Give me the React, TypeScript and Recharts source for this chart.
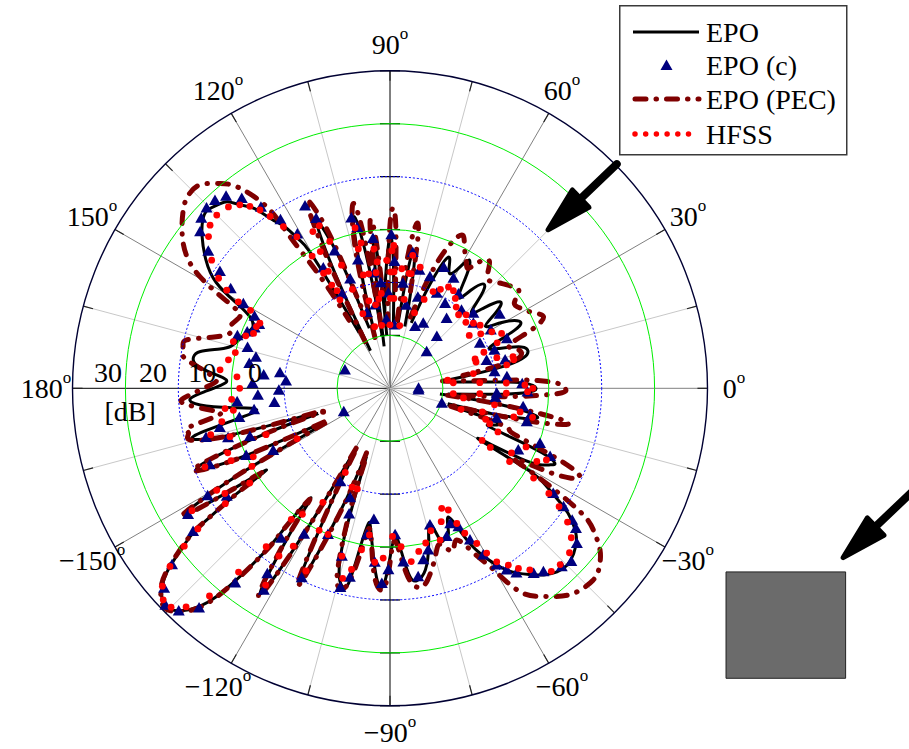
import React from 'react';
import {
  ComposedChart, XAxis, YAxis, Line, Scatter, ReferenceLine, ReferenceDot, ReferenceArea, Legend,
} from 'recharts';

type P = [number, number] | null;

// ---------------- DATA (angle in degrees, radial value: ring step 10, outer circle 60) ----------------
const epoLine: P[] = [
  [7, 10], [5, 13.6], [3.5, 19.8], [2.5, 24.6], [1.2, 27], [0, 27.6], [-1, 27.2], [-2, 25.1], [-3, 21.2], [-4.3, 15.1], [-5.6, 11], null,
  [-6.5, 9.5], [-8, 18.9], [-9.5, 25.5], [-11, 28.4], [-12.5, 26.5], [-14, 19.8], [-15, 11.3], null,
  [-16, 11.3], [-17, 18.9], [-18, 21.7], [-19.5, 20.8], [-21, 19.8], [-22, 24.6], [-23, 31.2], [-24.4, 34.2], [-25.5, 33.6],
  [-27, 31.8], [-28.3, 27.8], [-29.3, 20.4], [-29.9, 19.7], [-30.3, 24.6], [-30.7, 31.4], [-32.1, 35], [-34.3, 39.7],
  [-35.9, 42.3], [-38.5, 45], [-42, 46.7], [-45, 47.3], [-47.7, 46.9], [-50.5, 45.7], [-53.1, 44], [-57.3, 40.8],
  [-61.4, 35.5], [-63.5, 31], [-65.6, 26.7], [-68, 29.5], [-70, 30.2], [-71.7, 30.2], [-73.5, 26.7], [-76, 30.2],
  [-79, 35], [-82, 36.7], [-84, 35.7], [-86, 31], [-88, 28], [-90, 32], [-92, 37.4], [-94, 36], [-96, 31], [-98, 26.5],
  [-99.1, 25.9], [-100.5, 30], [-101.8, 37], [-103.2, 38.6], [-105, 37], [-107, 30], [-109, 13.6], null,
  [-110, 13], [-112, 25], [-114.7, 39.9], [-116, 35], [-117.5, 22], [-119, 13], null,
  [-119.5, 13.2], [-120.5, 30], [-122, 45.4], [-123.5, 40], [-125, 30], [-126, 25.7], [-127, 33], [-127.5, 39.3],
  [-129.8, 51.2], [-132.9, 57.3], [-136, 59.2], [-139, 57], [-141, 53.5], [-143.4, 47.1], [-144.3, 42.7], [-145.5, 35],
  [-146.5, 28], [-147.3, 35], [-148.3, 45.6], [-149.5, 40], [-150.5, 30], [-151.7, 14], null,
  [-153, 14], [-155, 30], [-157, 39.3], [-158.5, 36], [-160, 25], [-160.7, 13.4], null,
  [-162, 15], [-163.5, 30], [-165.5, 38.4], [-167, 36], [-168.5, 30], [-170.8, 25.5], [-173, 30], [-175, 36], [-177, 37.8],
  [-179, 35], [179, 32], [177, 31], [175, 34], [173, 37], [171, 37.6], [169, 36.5], [167, 33], [165, 31], [162, 29.9],
  [159, 29.1], [156, 28.4], [153, 29.7], [151, 33.1], [148.7, 38.4], [145, 42.5], [141, 45.7], [138, 47.6], [135.6, 48.2],
  [133, 47.5], [131, 46.7], [129, 44.5], [127, 42.5], [125, 39], [123, 36.3], [121.5, 33], [120.5, 30.2], [119.8, 22], [119, 12], null,
  [117.5, 8], [116, 20], [114.8, 30], [113.7, 34.4], [112.5, 32], [111, 25], [109, 12], null,
  [106, 10], [104, 22], [102.3, 32.5], [100.8, 30], [99.5, 20], [98.5, 10], null,
  [98, 8], [97.2, 20], [96.5, 27.9], [95.5, 26], [94.5, 18], [93.5, 10], null,
  [94.6, 11.7], [93, 18], [91.5, 24], [90.5, 27.5], [90, 28.7], [89, 27], [88, 20], [87, 12.3], null,
  [83, 12], [81.5, 22], [80.3, 26.2], [79, 24], [77.5, 17], [76.5, 12], null,
  [72, 13], [69, 21], [66.2, 27], [64, 25.5], [62, 24.5], [60, 26.5], [58.3, 28.5], [56, 26], [53, 21.5], [50.5, 24],
  [48, 26.5], [45.5, 24.5], [43, 21], [40.5, 23.5], [38, 26.5], [35.5, 24.5], [33, 21.5], [30.5, 24.5], [27.5, 27.5],
  [25, 26], [22.5, 20.5], [20, 22], [17.5, 26], [15, 27], [13, 26], [11, 22], [9, 14], [8, 10],
];

const epoPecLine: P[] = [
  [8, 10], [5.5, 15], [4, 22], [3, 28], [1.5, 32], [0, 33.1], [-1.5, 32.5], [-3, 27], [-4.5, 20], [-6, 12], null,
  [-7, 11], [-8.5, 22], [-10.6, 33.8], [-12.5, 31], [-14, 22], [-15.5, 12], null,
  [-16.5, 12], [-18, 22], [-19.5, 24], [-21, 27], [-23, 35], [-24.8, 39.5], [-26.5, 38], [-28, 33], [-29.5, 27], [-31, 33],
  [-33, 42.9], [-35, 47], [-37.6, 50.1], [-40.5, 52], [-43.4, 52.8], [-48.2, 52], [-51.9, 50], [-54.5, 48.3], [-57, 46.2],
  [-59, 42.5], [-60.7, 38.6], [-63, 35], [-66.3, 31.3], [-69, 33], [-72, 31], [-75, 33], [-79, 37], [-82, 38], [-85, 35],
  [-88, 29], [-90, 33], [-92, 38], [-95, 35], [-98, 27], [-100, 31], [-102, 37.5], [-104, 39], [-106, 36], [-108, 25], [-109, 14], null,
  [-110, 13], [-112, 26], [-114.7, 40.5], [-116, 36], [-117.5, 23], [-119, 13], null,
  [-119.5, 13], [-120.5, 31], [-122, 46], [-123.5, 41], [-125, 31], [-126, 26], [-127, 33.5], [-127.5, 39.5], [-129.8, 51.5],
  [-132.9, 57.6], [-136, 59.4], [-139, 57.3], [-141, 53.8], [-143.4, 47.4], [-144.3, 43], [-145.5, 35], [-146.5, 28.5],
  [-147.3, 35.5], [-148.3, 46], [-149.5, 40.5], [-150.5, 30], [-151.7, 14], null,
  [-153, 14], [-155, 30.5], [-157, 40], [-158.5, 36.5], [-160, 25], [-160.7, 13.4], null,
  [-162, 15], [-163.5, 31], [-165.5, 39], [-167.5, 39], [-169, 38.8], [-171, 33], [-173, 34], [-175.9, 39.2], [-178, 38],
  [179, 34], [177, 33], [174, 36], [171.3, 39.5], [168.6, 39.9], [166.6, 39.5], [164, 35], [161, 32], [158.9, 32.4],
  [155, 31.5], [152.5, 33.4], [149.6, 41.6], [145, 47.7], [139.2, 51.6], [136, 52.8], [133, 52.6], [130, 50.5], [127.2, 47.8],
  [124.2, 41.5], [123.4, 34.3], [122, 25], [121, 15], null,
  [118, 10], [116, 25], [114.8, 35], [113.9, 38.9], [112.5, 36], [111, 28], [109, 14], null,
  [106.5, 10], [104.5, 24], [102.5, 33], [100.8, 35.2], [99.5, 27], [98.7, 15], null,
  [98.3, 12], [97.5, 24], [96.8, 31.8], [95.5, 29], [94.3, 18], null,
  [92, 12], [90.8, 24], [89.5, 33.4], [88, 31], [86.8, 18], null,
  [84, 13], [82.5, 24], [81, 31.2], [79.5, 29], [78, 18], null,
  [74, 14], [70, 24], [67, 30], [64.5, 32], [62, 30], [59, 28], [57, 27], [55, 29], [52, 30.5], [49, 28], [46, 28],
  [43, 29], [40, 30], [37, 30.5], [34.5, 28.5], [31.4, 29], [28, 30.5], [25, 32], [22.5, 29], [20, 24], [17.3, 25],
  [14, 25.5], [12, 22], [10, 14],
];

const epoCPoints: [number, number][] = [
  [0, 5.4], [5.7, 22.2], [9, 20], [13.8, 22.4], [16, 19], [20, 21], [23, 24], [26.6, 19], [30, 22], [34, 25], [38, 20],
  [42, 21.2], [45, 9.8], [47.5, 20], [47.9, 13.2], [51, 17], [54, 22], [57, 19.1], [60, 24], [62.9, 13.8], [63.8, 20],
  [66, 25], [67.9, 12.6], [70.3, 22.4], [73, 18], [76, 23], [79, 16], [80.5, 26], [83, 20], [86, 12], [88, 24], [89.5, 29],
  [91, 18], [93, 13], [95, 20], [96.5, 28.5], [98, 22], [100, 16], [101.5, 31], [102.8, 33], [104, 25], [107, 15],
  [110, 22], [112, 28], [113.5, 35], [115, 38], [117, 20], [119, 26], [121, 34], [123, 38], [125.5, 42], [128, 45.5],
  [130.5, 47.7], [133, 48.5], [135.5, 48.6], [138, 48], [140.5, 46.5], [143, 43], [145.5, 39], [148, 35.5], [150, 32],
  [152, 29], [154, 27.5], [156, 28], [157.8, 9.2], [158.5, 29], [161, 30.5], [164, 28], [167, 26], [170, 27], [172, 21],
  [174, 24], [176, 19.7], [178, 26], [-179, 21], [-177, 25], [-175, 29], [-173, 22], [-171, 26], [-169, 29], [-167, 33],
  [-165, 36], [-163, 32], [-161, 28], [-157, 37], [-153, 9.8], [-155, 30], [-152, 25], [-149.5, 40], [-148, 45],
  [-146.5, 37], [-144, 46], [-141, 53], [-138.5, 57], [-136, 59], [-133.5, 58], [-131, 55], [-128.5, 47], [-126, 35],
  [-123.5, 42], [-122, 45], [-120.5, 32], [-118, 20], [-115, 39.5], [-113, 30], [-110, 22], [-108, 25], [-106, 33],
  [-104, 38.8], [-102, 36.5], [-99, 28], [-97, 25], [-95, 33], [-92.4, 36.9], [-90.5, 34.3], [-88, 27.7], [-85.6, 32.9],
  [-81.5, 36], [-79, 33], [-76.7, 31.4], [-73.7, 26.9], [-69.1, 30], [-66, 28], [-63.7, 29.2], [-62.2, 32.4], [-60.8, 36.1],
  [-58.9, 39], [-57.3, 40.8], [-55.6, 42.3], [-52.2, 44.3], [-50.1, 45.2], [-46.1, 46.8], [-43.7, 47.4], [-39.7, 45.9],
  [-37, 44], [-35.9, 42.5], [-34.3, 39.7], [-32.8, 36.7], [-25.7, 26.9], [-23.1, 32.9], [-20.2, 30.2], [-16.2, 10.2],
  [-15.7, 20.9], [-13.7, 26.6], [-11, 27], [-7.9, 25.4], [-5, 20], [-3.4, 5.4], [-2.7, 20.2], [-1.5, 26], [2, 25],
];

const hfssPoints: [number, number][] = [
  [5, 12], [3.6, 17], [2.6, 22], [1.4, 25.5], [0, 27], [-1.4, 26], [-2.4, 22], [-3.4, 17], [-4.8, 12],
  [-7.5, 14], [-9, 20], [-10.3, 25], [-11.5, 27.5], [-13, 24], [-14.3, 18], [-16.5, 14], [-18, 19], [-19.5, 20],
  [-22, 22], [-23.3, 28], [-24.6, 32.5], [-26.5, 31], [-28, 26], [-29.5, 20], [-30.5, 22], [-31.5, 26.5], [-32, 32],
  [-33.5, 36], [-35, 39], [-37, 42], [-39.5, 44.4], [-42.5, 46], [-46, 46.3], [-48.6, 46.1], [-52.4, 43.3], [-54.5, 41.8],
  [-56.2, 40.2], [-58.4, 38.5], [-59.6, 36.1], [-60.8, 33.6], [-62.7, 30.8], [-63.7, 28.5], [-64.4, 25.5], [-66.7, 24.7],
  [-69, 27], [-71.7, 30.2], [-74, 28], [-77, 30], [-80, 31.3], [-83, 33], [-86, 30], [-89, 28], [-92.3, 32.1], [-95, 33],
  [-98, 28], [-100, 31], [-102, 35], [-104, 37], [-106, 33], [-108, 20], [-111, 20], [-113, 30], [-114.7, 38],
  [-116.5, 30], [-118, 18], [-120.5, 25], [-121.5, 35], [-122.3, 44], [-123.5, 38], [-124.8, 29], [-127, 31], [-128, 38],
  [-129.5, 45], [-131, 52], [-133, 56.5], [-135, 58.5], [-137, 58.6], [-139, 57], [-141, 53.5], [-142.5, 49], [-143.8, 45],
  [-145, 38], [-146, 32], [-147.5, 37], [-148.3, 44], [-149.5, 38], [-150.5, 30], [-151.5, 20], [-153.4, 28.9],
  [-155.5, 33], [-157, 38], [-158.3, 33], [-159.5, 25], [-163.2, 31.6], [-165.5, 35], [-168.8, 32.4], [-172, 29.9],
  [-173, 31.4], [-176, 30], [180, 28.4], [175.7, 29], [173.8, 32.3], [170, 31], [167, 30], [163.4, 30.9], [160, 29],
  [158.1, 27.8], [155.2, 27.8], [153.4, 27.5], [150.8, 30.2], [150.3, 33], [149, 36], [147.3, 38.5], [144.3, 41.5],
  [140.1, 44.7], [137.8, 45.9], [135, 46.3], [131.7, 45.9], [129.3, 44.8], [127.6, 43.4], [126.1, 41.7], [124.9, 39.6],
  [123.4, 36.6], [121.6, 33.6], [120.5, 29], [120, 25.1], [119.4, 22.4], [119.5, 19.2],
  [116.2, 33], [117, 29], [117.8, 25], [118.5, 21], [113.5, 33.5], [112.3, 30], [111.5, 25], [110.8, 20], [110, 15],
  [104, 12], [103.6, 17], [103.2, 22], [102.8, 27], [102.3, 31], [101.3, 28], [100.5, 22], [99.8, 16],
  [97.5, 12], [97.2, 17], [96.9, 22], [96.6, 26.5], [95.8, 24], [95.2, 18],
  [91.5, 24.2], [90, 12], [89.8, 17], [89.5, 22], [89.2, 26], [88.5, 27], [88, 22], [87.5, 17], [84.4, 22.7],
  [81.2, 12], [80.9, 17], [80.6, 22], [80.3, 25.5], [79.5, 22], [76, 23.6], [72, 15], [69, 18], [66, 20], [63, 21],
  [60, 22.1], [57, 22], [54, 21], [50.8, 19.8], [47, 19], [44, 20], [41, 19], [38, 20], [35, 20.8], [33.7, 18], [31, 20],
  [29, 22], [26.2, 23.5], [23, 22], [21, 19], [19, 17], [17, 17], [16, 21], [14.4, 24], [13, 24], [11.3, 22.5], [10, 16], [8, 11],
];

const seriesNames = ['EPO', 'EPO (c)', 'EPO (PEC)', 'HFSS'];
const ringValues = [10, 20, 30, 40, 50, 60];
const spokeAngles = [0, 15, 30, 45, 60, 75, 90, 105, 120, 135, 150, 165, 180, 195, 210, 225, 240, 255, 270, 285, 300, 315, 330, 345];
const angleTicks = [0, 30, 60, 90, 120, 150, 180, -150, -120, -90, -60, -30];
const radialTickLabels = ['30', '20', '10', '0'];
const radialUnitLabel = '[dB]';

// ---------------- LAYOUT ----------------
const W = 909;
const H = 749;
const CX = 390;
const CY = 388.3;
const R_PX = 317.5;
const R_MAX = 60;
const K = R_PX / R_MAX;
const X_DOMAIN: [number, number] = [-CX / K, (W - CX) / K];
const Y_DOMAIN: [number, number] = [-(H - CY) / K, CY / K];
const FONT = "'Liberation Serif', 'DejaVu Serif', serif";
const TXT: React.CSSProperties = { fontFamily: FONT };
const LABEL_R = 65;
const RADIAL_LABEL_R = [53.3, 44.8, 35.5, 25.5];

const rad = (d: number) => (d * Math.PI) / 180;
const toXY = (p: P) =>
  p ? { x: p[1] * Math.cos(rad(p[0])), y: p[1] * Math.sin(rad(p[0])) } : { x: null, y: null };

const epoData = epoLine.map(toXY);
const pecData = epoPecLine.map(toXY);
const epoCData = epoCPoints.map(toXY);
const hfssData = hfssPoints.map(toXY);

const NAVY = '#00007f';
const PEC = '#7f0000';
const PEC_DASH = '11 10 0.5 10';

const Tri = (p: any) => {
  const { cx, cy } = p;
  if (cx == null || cy == null || isNaN(cx)) return <g />;
  return <polygon points={`${cx},${cy - 6} ${cx + 6},${cy + 4.5} ${cx - 6},${cy + 4.5}`} fill={NAVY} />;
};
const RedDot = (p: any) => {
  const { cx, cy } = p;
  if (cx == null || cy == null || isNaN(cx)) return <g />;
  return <circle cx={cx} cy={cy} r={3.4} fill="#ff0000" />;
};

const deg = (a: number) => (a < 0 ? '\u2212' + Math.abs(a) : String(a));

const arrowShape = (dirDeg: number, len: number) => (p: any) => {
  const { cx, cy } = p;
  const ux = Math.cos(rad(dirDeg));
  const uy = -Math.sin(rad(dirDeg));
  const nx = -uy;
  const ny = ux;
  const hl = 47;
  const hw = 12;
  const bx = cx + ux * hl;
  const by = cy + uy * hl;
  return (
    <g>
      <line x1={bx - ux * 6} y1={by - uy * 6} x2={cx + ux * len} y2={cy + uy * len} stroke="#000" strokeWidth={8} strokeLinecap="round" />
      <polygon
        points={`${cx + ux * 2},${cy + uy * 2} ${bx + nx * hw},${by + ny * hw} ${bx - nx * hw},${by - ny * hw}`}
        fill="#000" stroke="#000" strokeWidth={5} strokeLinejoin="round"
      />
    </g>
  );
};

const LegendBox = () => (
  <svg width={230} height={152} style={{ display: 'block' }}>
    <rect x={0.75} y={0.75} width={227} height={149} fill="#fff" stroke="#3a3a3a" strokeWidth={1.5} />
    <line x1={14} x2={80} y1={27} y2={27} stroke="#000" strokeWidth={3} />
    <polygon points="47.5,54.5 53.5,65 41.5,65" fill={NAVY} />
    <line x1={16} x2={80} y1={94} y2={94} stroke={PEC} strokeWidth={5} strokeDasharray={PEC_DASH} strokeLinecap="round" />
    <line x1={16} x2={80} y1={129} y2={129} stroke="#ff0000" strokeWidth={5.5} strokeDasharray="0 10.7" strokeLinecap="round" />
    {seriesNames.map((n, i) => (
      <text key={n} x={87} y={[27, 60, 94, 129][i] + 10} style={TXT} fontSize={28} fill="#000">
        {n}
      </text>
    ))}
  </svg>
);

const AngleText = ({ cx, cy, a }: { cx: number; cy: number; a: number }) => (
  <text x={cx} y={cy + 10} textAnchor="middle" style={TXT} fontSize={28} fill="#000">
    {deg(a)}
    <tspan fontSize={17} dy={-15}>o</tspan>
  </text>
);

export default function App() {
  return (
    <div style={{ position: 'absolute', left: 0, top: 0, width: W, height: H, background: '#fff', fontFamily: FONT }}>
      <ComposedChart width={W} height={H} margin={{ top: 0, right: 0, bottom: 0, left: 0 }}>
        <XAxis type="number" dataKey="x" domain={X_DOMAIN} hide allowDataOverflow />
        <YAxis type="number" dataKey="y" domain={Y_DOMAIN} hide allowDataOverflow />

        {spokeAngles.map((a) => (
          <ReferenceLine
            key={'s' + a}
            segment={[{ x: 0, y: 0 }, { x: R_MAX * Math.cos(rad(a)), y: R_MAX * Math.sin(rad(a)) }]}
            stroke={a === 90 || a === 270 || a === 180 ? '#000' : a % 30 === 0 ? '#808080' : '#c8c8c8'}
            strokeWidth={1}
            ifOverflow="visible"
          />
        ))}
        {ringValues.map((v, i) => (
          <ReferenceDot
            key={'r' + v}
            x={0}
            y={0}
            r={v * K}
            fill="none"
            stroke={v === R_MAX ? '#000033' : i % 2 === 0 ? '#00ee00' : '#0000ff'}
            strokeWidth={v === R_MAX ? 1.4 : 1}
            strokeDasharray={v !== R_MAX && i % 2 === 1 ? '2 2' : undefined}
            ifOverflow="visible"
          />
        ))}
        {spokeAngles.map((a) => (
          <ReferenceLine
            key={'t' + a}
            segment={[
              { x: (R_MAX - 1.9) * Math.cos(rad(a)), y: (R_MAX - 1.9) * Math.sin(rad(a)) },
              { x: R_MAX * Math.cos(rad(a)), y: R_MAX * Math.sin(rad(a)) },
            ]}
            stroke="#222"
            strokeWidth={1.2}
            ifOverflow="visible"
          />
        ))}
        {ringValues.flatMap((v) => [v, -v]).map((v) => (
          <ReferenceLine
            key={'vt' + v}
            segment={[{ x: -1.9, y: v }, { x: 1.9, y: v }]}
            stroke="#000"
            strokeWidth={1.2}
            ifOverflow="visible"
          />
        ))}

        <Line type="natural" data={epoData} dataKey="y" name="EPO" stroke="#000" strokeWidth={3} dot={false} isAnimationActive={false} connectNulls={false} strokeLinejoin="round" />
        <Scatter data={epoCData} dataKey="y" name="EPO (c)" shape={Tri} isAnimationActive={false} />
        <Line type="natural" data={pecData} dataKey="y" name="EPO (PEC)" stroke={PEC} strokeWidth={5} strokeDasharray={PEC_DASH} strokeLinecap="round" dot={false} isAnimationActive={false} connectNulls={false} />
        <Scatter data={hfssData} dataKey="y" name="HFSS" shape={RedDot} isAnimationActive={false} />

        {angleTicks.map((a) => (
          <ReferenceDot
            key={'al' + a}
            x={LABEL_R * Math.cos(rad(a))}
            y={LABEL_R * Math.sin(rad(a))}
            r={0}
            ifOverflow="visible"
            shape={(p: any) => <AngleText cx={p.cx} cy={p.cy} a={a} />}
          />
        ))}
        {radialTickLabels.map((t, i) => (
          <ReferenceDot
            key={'rl' + t}
            x={-RADIAL_LABEL_R[i]}
            y={3.0}
            r={0}
            ifOverflow="visible"
            shape={(p: any) => (
              <text x={p.cx} y={p.cy + 10} textAnchor="middle" style={TXT} fontSize={28} fill="#000">
                {t}
              </text>
            )}
          />
        ))}
        <ReferenceDot
          x={-49.1}
          y={-4.3}
          r={0}
          ifOverflow="visible"
          shape={(p: any) => (
            <text x={p.cx} y={p.cy + 10} textAnchor="middle" style={TXT} fontSize={28} fill="#000">
              {radialUnitLabel}
            </text>
          )}
        />

        <ReferenceArea x1={63.5} x2={86.1} y1={-54.8} y2={-34.7} fill="#6b6b6b" fillOpacity={1} stroke="#222" strokeWidth={1} ifOverflow="visible" />
        <ReferenceDot x={29.6} y={29.7} r={0} ifOverflow="visible" shape={arrowShape(43.7, 97)} />
        <ReferenceDot x={85.36} y={-32.26} r={0} ifOverflow="visible" shape={arrowShape(43.7, 130)} />

        <Legend
          layout="vertical"
          align="center"
          verticalAlign="middle"
          content={() => <LegendBox />}
          wrapperStyle={{ position: 'absolute', left: 619, top: 5, width: 230, height: 152 }}
        />
      </ComposedChart>
    </div>
  );
}
